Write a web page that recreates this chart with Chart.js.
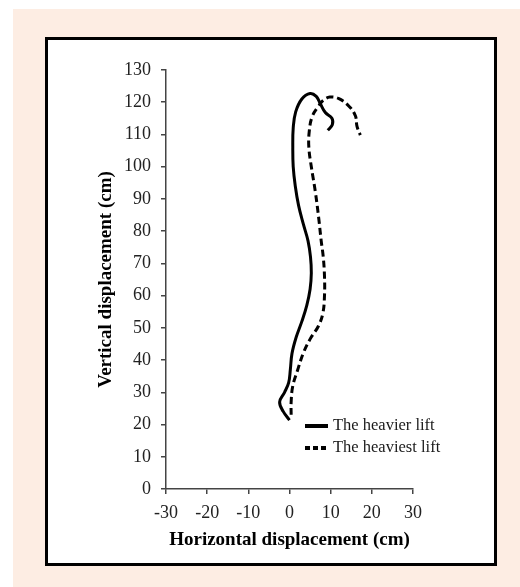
<!DOCTYPE html>
<html>
<head>
<meta charset="utf-8">
<script src="https://cdn.jsdelivr.net/npm/chart.js@4.4.1/dist/chart.umd.min.js"></script>
<style>
  html, body { margin: 0; padding: 0; background: #ffffff; width: 520px; height: 587px; overflow: hidden; }
  #bg { position: absolute; left: 13px; top: 9px; width: 507px; height: 578px; background: #FDEDE3; }
  #frame { position: absolute; left: 45px; top: 37px; width: 446px; height: 523px; border: 3px solid #000; background: #fff; }
  #c { position: absolute; left: 0; top: 0; }
</style>
</head>
<body>
<div id="bg"></div>
<div id="frame"></div>
<canvas id="c" width="520" height="587"></canvas>
<script>
// ---- data ----
const seriesNames = ["The heavier lift", "The heaviest lift"];

const heavierX = [0, -1.5, -2.4, -1.2, -0.2, 0.2, 0.6, 1.6, 3.0, 4.2, 5.0, 5.3, 5.1, 4.5, 3.4, 2.2, 1.4, 0.9, 0.8, 0.9, 1.5, 3.0, 5.0, 6.5, 7.5, 8.7, 10.3, 10.4, 9.3];
const heavierY = [21.4, 24, 27, 30, 33, 37, 42, 47, 52, 57, 62, 67, 72, 77, 82, 88, 94, 100, 106, 112, 117, 121, 122.7, 121.8, 119.5, 116.8, 115, 113, 111.3];

const heaviestX = [0.4, 0.4, 0.8, 2.0, 3.3, 5.0, 7.0, 8.1, 8.5, 8.5, 8.2, 7.7, 7.1, 6.3, 5.3, 4.7, 4.8, 5.5, 6.9, 8.2, 9.8, 12.0, 14.5, 16.0, 16.4, 17.2];
const heaviestY = [23, 27, 32, 37, 42, 46.5, 50.5, 54.5, 60, 66, 72, 77, 84, 92, 100, 106, 111, 115.5, 118.5, 120.6, 121.6, 121.1, 118.7, 115.8, 112.5, 109.8];

const xTicks = [-30, -20, -10, 0, 10, 20, 30];
const yTicks = [0, 10, 20, 30, 40, 50, 60, 70, 80, 90, 100, 110, 120, 130];

const xTitle = "Horizontal displacement (cm)";
const yTitle = "Vertical displacement (cm)";

function pts(xs, ys) { return xs.map((x, i) => ({ x: x, y: ys[i] })); }

const SERIF = "'Liberation Serif', 'Times New Roman', serif";

const legendPlugin = {
  id: 'insideLegend',
  afterDraw(chart) {
    const ctx = chart.ctx;
    const ds = chart.data.datasets;
    const x0 = 305, x1 = 328, tx = 333;
    const ys = [426, 448];
    ctx.save();
    ds.forEach((d, i) => {
      ctx.beginPath();
      ctx.strokeStyle = '#000';
      ctx.lineWidth = 4;
      ctx.setLineDash(d.borderDash && d.borderDash.length ? [5, 3] : []);
      ctx.moveTo(x0, ys[i]);
      ctx.lineTo(x1, ys[i]);
      ctx.stroke();
      ctx.setLineDash([]);
      ctx.fillStyle = '#1a1a1a';
      ctx.font = "16.5px " + SERIF;
      ctx.textBaseline = 'middle';
      ctx.textAlign = 'left';
      ctx.fillText(d.label, tx, ys[i]);
    });
    ctx.restore();
  }
};

new Chart(document.getElementById('c'), {
  type: 'scatter',
  data: {
    datasets: [
      {
        label: seriesNames[0],
        data: pts(heavierX, heavierY),
        showLine: true,
        borderColor: '#000',
        borderWidth: 3,
        pointRadius: 0,
        tension: 0.4,
        fill: false
      },
      {
        label: seriesNames[1],
        data: pts(heaviestX, heaviestY),
        showLine: true,
        borderColor: '#000',
        borderWidth: 3,
        borderDash: [7, 4],
        pointRadius: 0,
        tension: 0.4,
        fill: false
      }
    ]
  },
  options: {
    responsive: false,
    animation: false,
    layout: { padding: { left: 0, top: 70, right: 107, bottom: 20 } },
    plugins: { legend: { display: false }, tooltip: { enabled: false } },
    scales: {
      x: {
        type: 'linear',
        min: xTicks[0], max: xTicks[xTicks.length - 1],
        afterBuildTicks: (s) => { s.ticks = xTicks.map(v => ({ value: v })); },
        afterFit: (s) => { s.height = 78; },
        grid: { display: true, drawOnChartArea: false, drawTicks: true, tickLength: 5, color: '#444', lineWidth: 1.5 },
        border: { display: true, color: '#444', width: 1.5 },
        ticks: { color: '#222', padding: 8, font: { family: SERIF, size: 18 } },
        title: { display: true, text: xTitle, color: '#000', padding: { top: 0, bottom: 16 }, font: { family: SERIF, size: 19, weight: 'bold' } }
      },
      y: {
        type: 'linear',
        min: yTicks[0], max: yTicks[yTicks.length - 1],
        afterBuildTicks: (s) => { s.ticks = yTicks.map(v => ({ value: v })); },
        afterFit: (s) => { s.width = 166; },
        grid: { display: true, drawOnChartArea: false, drawTicks: true, tickLength: 5, color: '#444', lineWidth: 1.5 },
        border: { display: true, color: '#444', width: 1.5 },
        ticks: { color: '#222', padding: 10, font: { family: SERIF, size: 18 } },
        title: { display: true, text: yTitle, color: '#000', padding: { top: 95, bottom: 0 }, font: { family: SERIF, size: 19, weight: 'bold' } }
      }
    }
  },
  plugins: [legendPlugin]
});
</script>
</body>
</html>
